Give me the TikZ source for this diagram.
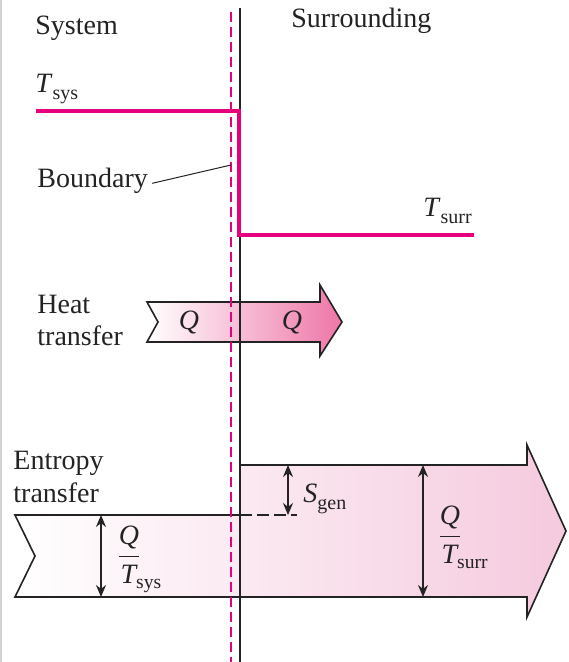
\documentclass[tikz,border=0pt]{standalone}
\usepackage{fontspec}
\usepackage{amsmath}
\setmainfont{Liberation Serif}
\usetikzlibrary{arrows.meta}
\definecolor{mag}{RGB}{230,0,126}
\definecolor{pinkA}{RGB}{238,118,168}
\definecolor{pinkB}{RGB}{245,202,222}
\definecolor{ink}{RGB}{35,35,35}
\newcommand\mysub[1]{\raisebox{-3.5pt}{\fontsize{10}{12}\selectfont #1}}
\newcommand\hangsub[1]{\text{\makebox[0pt][l]{#1}}}
\begin{document}
\begin{tikzpicture}[x=0.5pt,y=-0.5pt,
  lbl/.style={font=\fontsize{14}{16}\selectfont, text=ink, inner sep=0pt},
  dim/.style={draw=ink, line width=0.7pt, {Stealth[length=6pt,width=5pt]}-{Stealth[length=6pt,width=5pt]}},
  outl/.style={draw=ink, line width=0.8pt},
  hot/.style={draw=mag, line width=2pt},
  bndline/.style={draw=ink, line width=0.9pt},
  bnddash/.style={draw=mag, line width=1pt, dash pattern=on 5pt off 2.5pt}]
\useasboundingbox (0,0) rectangle (568,662);
\draw[gray!35, line width=1pt] (1,0) -- (1,662);

% heat transfer arrow
\path[outl, left color=white, right color=pinkA]
  (147,302) -- (320,302) -- (320,285) -- (342,322) -- (320,356) -- (320,342)
  -- (147,342) -- (158,322) -- cycle;

% entropy transfer arrow
\path[outl, left color=white, right color=pinkB]
  (15,515) -- (240,515) -- (240,465) -- (527,465) -- (527,445) -- (566,531)
  -- (527,617) -- (527,597) -- (15,597) -- (35,556) -- cycle;
\coordinate (dA) at (240,515);
\coordinate (dB) at (297,515);
\draw[draw=ink, line width=0.8pt, dash pattern=on 6pt off 2.5pt] (dA) -- (dB);

% boundary lines
\coordinate (b1) at (240,8);
\coordinate (b2) at (240,662);
\coordinate (m1) at (231,12);
\coordinate (m2) at (231,662);
\draw[bndline] (b1) -- (b2);
\draw[bnddash] (m1) -- (m2);

% temperature profile
\coordinate (t1) at (36,111);
\coordinate (t2) at (239,111);
\coordinate (t3) at (239,235);
\coordinate (t4) at (474,235);
\draw[hot] (t1) -- (t2) -- (t3) -- (t4);

% labels
\node[lbl, anchor=base west] (sys) at (35,35) {System};
\node[lbl, anchor=base west] (sur) at (291,28) {Surrounding};
\node[lbl, anchor=base west] (tsys) at (35,93) {\textit{T}\mysub{sys}};
\node[lbl, anchor=base west] (bnd) at (37,188) {Boundary};
\coordinate (bpt) at (231,165);
\draw[draw=ink, line width=0.5pt] ([xshift=2pt,yshift=-1pt]bnd.east) -- (bpt);
\node[lbl, anchor=base west] (tsur) at (423,217) {\textit{T}\mysub{surr}};

\node[lbl, anchor=base west] (heat) at (37,313) {Heat};
\node[lbl, anchor=base west] (htr) at (37,345) {transfer};
\node[lbl] (q1) at (189,322) {\textit{Q}};
\node[lbl] (q2) at (292,322) {\textit{Q}};

\node[lbl, anchor=base west] (ent) at (13,469) {Entropy};
\node[lbl, anchor=base west] (etr) at (13,502) {transfer};

% dimension arrows
\coordinate (s1) at (101,515);
\coordinate (s2) at (101,597);
\draw[dim] (s1) -- (s2);
\node[lbl, anchor=base west] (fsys) at (116,564) {$\dfrac{\textit{Q}}{\textit{T}_{\hangsub{sys}}}$};

\coordinate (g1) at (288,465);
\coordinate (g2) at (288,515);
\draw[dim] (g1) -- (g2);
\node[lbl, anchor=base west] (sgen) at (303,502) {\textit{S}\mysub{gen}};

\coordinate (r1) at (423,465);
\coordinate (r2) at (423,597);
\draw[dim] (r1) -- (r2);
\node[lbl, anchor=base west] (fsur) at (437,544) {$\dfrac{\textit{Q}}{\textit{T}_{\hangsub{surr}}}$};
\end{tikzpicture}
\end{document}
